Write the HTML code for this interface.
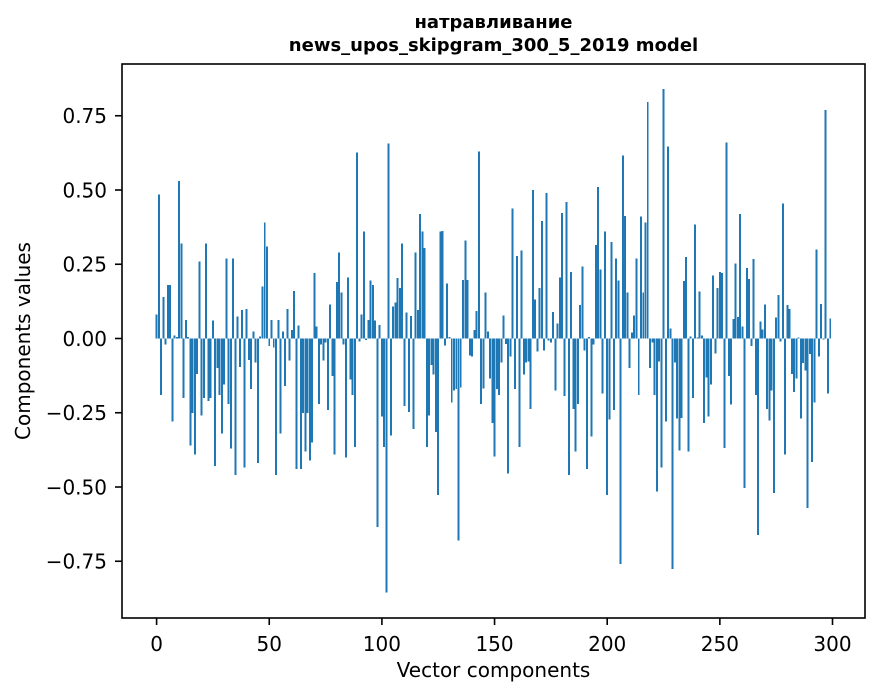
<!DOCTYPE html>
<html>
<head>
<meta charset="utf-8">
<style>
html,body{margin:0;padding:0;background:#fff;}
svg{display:block;}
text{font-family:"DejaVu Sans","Liberation Sans",sans-serif;fill:#000;}
</style>
</head>
<body>
<svg width="880" height="696" viewBox="0 0 880 696" xmlns="http://www.w3.org/2000/svg">
<rect x="0" y="0" width="880" height="696" fill="#fff"/>
<g transform="translate(156.6,338.5) scale(2.253,-297)" shape-rendering="crispEdges">
<path fill="#1f77b4" d="M-.44 0v.08h.88V0zm1 0v.485h.88V0zm1 0v-.19h.88V0zm1 0v.14h.88V0zm1 0v-.02h.88V0zm1 0v.18h.88V0zm1 0v.18h.88V0zm1 0v-.28h.88V0zm1 0v.01h.88V0zm1 0v.005h.88V0zm1 0v.53h.88V0zm1 0v.32h.88V0zm1 0v-.2h.88V0zm1 0v.063h.88V0zm1 0v.005h.88V0zm1 0v-.36h.88V0zm1 0v-.25h.88V0zm1 0v-.39h.88V0zm1 0v-.12h.88V0zm1 0v.26h.88V0zm1 0v-.26h.88V0zm1 0v-.2h.88V0zm1 0v.32h.88V0zm1 0v-.21h.88V0zm1 0v-.2h.88V0zm1 0v.06h.88V0zm1 0v-.43h.88V0zm1 0v-.1h.88V0zm1 0v-.19h.88V0zm1 0v-.32h.88V0zm1 0v-.155h.88V0zm1 0v.27h.88V0zm1 0v-.22h.88V0zm1 0v-.37h.88V0zm1 0v.27h.88V0zm1 0v-.46h.88V0zm1 0v.074h.88V0zm1 0v-.096h.88V0zm1 0v.096h.88V0zm1 0v-.435h.88V0zm1 0v.1h.88V0zm1 0v-.072h.88V0zm1 0v-.17h.88V0zm1 0v.024h.88V0zm1 0v-.08h.88V0zm1 0v-.42h.88V0zm1 0v.006h.88V0zm1 0v.175h.88V0zm1 0v.39h.88V0zm1 0v.31h.88V0zm1 0v-.026h.88V0zm1 0v.063h.88V0zm1 0v-.03h.88V0zm1 0v-.46h.88V0zm1 0v.063h.88V0zm1 0v-.32h.88V0zm1 0v.023h.88V0zm1 0v-.16h.88V0zm1 0v.1h.88V0zm1 0v-.074h.88V0zm1 0v.028h.88V0zm1 0v.16h.88V0zm1 0v-.44h.88V0zm1 0v.043h.88V0zm1 0v-.44h.88V0zm1 0v-.25h.88V0zm1 0v-.38h.88V0zm1 0v-.25h.88V0zm1 0v-.41h.88V0zm1 0v-.35h.88V0zm1 0v.22h.88V0zm1 0v.04h.88V0zm1 0v-.22h.88V0zm1 0v-.02h.88V0zm1 0v-.074h.88V0zm1 0v-.013h.88V0zm1 0v-.24h.88V0zm1 0v.115h.88V0zm1 0v-.126h.88V0zm1 0v-.39h.88V0zm1 0v.19h.88V0zm1 0v.29h.88V0zm1 0v.155h.88V0zm1 0v-.02h.88V0zm1 0v-.4h.88V0zm1 0v.206h.88V0zm1 0v-.138h.88V0zm1 0v-.19h.88V0zm1 0v-.365h.88V0zm1 0v.626h.88V0zm1 0v-.01h.88V0zm1 0v.08h.88V0zm1 0v.36h.88V0zm1 0v-.005h.88V0zm1 0v.063h.88V0zm1 0v.196h.88V0zm1 0v.18h.88V0zm1 0v.06h.88V0zm1 0v-.635h.88V0zm1 0v.046h.88V0zm1 0v-.263h.88V0zm1 0v-.365h.88V0zm1 0v-.856h.88V0zm1 0v.657h.88V0zm1 0v-.326h.88V0zm1 0v.108h.88V0zm1 0v.122h.88V0zm1 0v.204h.88V0zm1 0v.17h.88V0zm1 0v.32h.88V0zm1 0v-.228h.88V0zm1 0v.087h.88V0zm1 0v-.248h.88V0zm1 0v.075h.88V0zm1 0v-.305h.88V0zm1 0v.29h.88V0zm1 0v.096h.88V0zm1 0v.42h.88V0zm1 0v.36h.88V0zm1 0v.305h.88V0zm1 0v-.365h.88V0zm1 0v-.26h.88V0zm1 0v-.09h.88V0zm1 0v-.122h.88V0zm1 0v-.315h.88V0zm1 0v-.527h.88V0zm1 0v.36h.88V0zm1 0v.362h.88V0zm1 0v-.024h.88V0zm1 0v.186h.88V0zm1 0v.005h.88V0zm1 0v-.215h.88V0zm1 0v-.175h.88V0zm1 0v-.17h.88V0zm1 0v-.68h.88V0zm1 0v-.165h.88V0zm1 0v.197h.88V0zm1 0v.33h.88V0zm1 0v.197h.88V0zm1 0v-.057h.88V0zm1 0v-.06h.88V0zm1 0v.028h.88V0zm1 0v.092h.88V0zm1 0v.63h.88V0zm1 0v-.22h.88V0zm1 0v-.168h.88V0zm1 0v.155h.88V0zm1 0v.024h.88V0zm1 0v-.135h.88V0zm1 0v-.284h.88V0zm1 0v-.398h.88V0zm1 0v-.17h.88V0zm1 0v-.19h.88V0zm1 0v-.08h.88V0zm1 0v.077h.88V0zm1 0v-.018h.88V0zm1 0v-.455h.88V0zm1 0v-.06h.88V0zm1 0v.437h.88V0zm1 0v-.17h.88V0zm1 0v.278h.88V0zm1 0v-.365h.88V0zm1 0v.296h.88V0zm1 0v-.122h.88V0zm1 0v-.08h.88V0zm1 0v-.078h.88V0zm1 0v-.237h.88V0zm1 0v.5h.88V0zm1 0v.132h.88V0zm1 0v-.044h.88V0zm1 0v.17h.88V0zm1 0v.396h.88V0zm1 0v-.04h.88V0zm1 0v.49h.88V0zm1 0v-.006h.88V0zm1 0v-.013h.88V0zm1 0v.09h.88V0zm1 0v-.175h.88V0zm1 0v.05h.88V0zm1 0v.206h.88V0zm1 0v.423h.88V0zm1 0v-.194h.88V0zm1 0v.46h.88V0zm1 0v-.46h.88V0zm1 0v.224h.88V0zm1 0v-.237h.88V0zm1 0v-.38h.88V0zm1 0v-.22h.88V0zm1 0v.112h.88V0zm1 0v.243h.88V0zm1 0v-.04h.88V0zm1 0v-.44h.88V0zm1 0v.005h.88V0zm1 0v-.33h.88V0zm1 0v-.02h.88V0zm1 0v.315h.88V0zm1 0v.51h.88V0zm1 0v.232h.88V0zm1 0v-.186h.88V0zm1 0v.36h.88V0zm1 0v-.527h.88V0zm1 0v-.273h.88V0zm1 0v.325h.88V0zm1 0v-.24h.88V0zm1 0v.27h.88V0zm1 0v.196h.88V0zm1 0v-.76h.88V0zm1 0v.617h.88V0zm1 0v.413h.88V0zm1 0v.155h.88V0zm1 0v-.1h.88V0zm1 0v.02h.88V0zm1 0v.077h.88V0zm1 0v.27h.88V0zm1 0v-.19h.88V0zm1 0v.41h.88V0zm1 0v.155h.88V0zm1 0v.39h.88V0zm1 0v.797h.88V0zm1 0v-.1h.88V0zm1 0v-.013h.88V0zm1 0v-.19h.88V0zm1 0v-.515h.88V0zm1 0v-.078h.88V0zm1 0v-.435h.88V0zm1 0v.84h.88V0zm1 0v-.28h.88V0zm1 0v.646h.88V0zm1 0v.034h.88V0zm1 0v-.776h.88V0zm1 0v-.08h.88V0zm1 0v-.27h.88V0zm1 0v-.377h.88V0zm1 0v-.268h.88V0zm1 0v.194h.88V0zm1 0v.274h.88V0zm1 0v-.38h.88V0zm1 0v.006h.88V0zm1 0v-.2h.88V0zm1 0v.383h.88V0zm1 0v.003h.88V0zm1 0v.158h.88V0zm1 0v.01h.88V0zm1 0v-.285h.88V0zm1 0v-.132h.88V0zm1 0v-.263h.88V0zm1 0v-.155h.88V0zm1 0v.212h.88V0zm1 0v-.05h.88V0zm1 0v.17h.88V0zm1 0v.224h.88V0zm1 0v.22h.88V0zm1 0v-.369h.88V0zm1 0v.66h.88V0zm1 0v-.126h.88V0zm1 0v-.223h.88V0zm1 0v.066h.88V0zm1 0v.252h.88V0zm1 0v.072h.88V0zm1 0v.42h.88V0zm1 0v.04h.88V0zm1 0v-.503h.88V0zm1 0v.237h.88V0zm1 0v.2h.88V0zm1 0v-.026h.88V0zm1 0v.267h.88V0zm1 0v-.19h.88V0zm1 0v-.662h.88V0zm1 0v.057h.88V0zm1 0v.03h.88V0zm1 0v.114h.88V0zm1 0v-.237h.88V0zm1 0v-.276h.88V0zm1 0v-.175h.88V0zm1 0v-.52h.88V0zm1 0v.07h.88V0zm1 0v.146h.88V0zm1 0v-.01h.88V0zm1 0v.454h.88V0zm1 0v-.39h.88V0zm1 0v.112h.88V0zm1 0v.1h.88V0zm1 0v-.12h.88V0zm1 0v-.18h.88V0zm1 0v-.135h.88V0zm1 0v.004h.88V0zm1 0v-.27h.88V0zm1 0v-.083h.88V0zm1 0v-.107h.88V0zm1 0v-.57h.88V0zm1 0v-.053h.88V0zm1 0v-.416h.88V0zm1 0v-.215h.88V0zm1 0v.3h.88V0zm1 0v-.06h.88V0zm1 0v.116h.88V0zm1 0v-.003h.88V0zm1 0v.77h.88V0zm1 0v-.185h.88V0zm1 0v.068h.88V0z"/>
</g>
<!-- axes frame -->
<rect x="122" y="64" width="743" height="554" fill="none" stroke="#000" stroke-width="1.6"/>
<!-- ticks -->
<g stroke="#000" stroke-width="1.6">
<line x1="115" y1="115.75" x2="122" y2="115.75"/>
<line x1="115" y1="190" x2="122" y2="190"/>
<line x1="115" y1="264.25" x2="122" y2="264.25"/>
<line x1="115" y1="338.5" x2="122" y2="338.5"/>
<line x1="115" y1="412.75" x2="122" y2="412.75"/>
<line x1="115" y1="487" x2="122" y2="487"/>
<line x1="115" y1="561.25" x2="122" y2="561.25"/>
<line x1="156.6" y1="618" x2="156.6" y2="625"/>
<line x1="269.25" y1="618" x2="269.25" y2="625"/>
<line x1="381.9" y1="618" x2="381.9" y2="625"/>
<line x1="494.55" y1="618" x2="494.55" y2="625"/>
<line x1="607.2" y1="618" x2="607.2" y2="625"/>
<line x1="719.85" y1="618" x2="719.85" y2="625"/>
<line x1="832.5" y1="618" x2="832.5" y2="625"/>
</g>
<g font-size="20" text-anchor="end">
<text x="107" y="123">0.75</text>
<text x="107" y="197.3">0.50</text>
<text x="107" y="271.5">0.25</text>
<text x="107" y="345.8">0.00</text>
<text x="107" y="420">−0.25</text>
<text x="107" y="494.3">−0.50</text>
<text x="107" y="568.5">−0.75</text>
</g>
<g font-size="20" text-anchor="middle">
<text x="156.6" y="651">0</text>
<text x="269.25" y="651">50</text>
<text x="381.9" y="651">100</text>
<text x="494.55" y="651">150</text>
<text x="607.2" y="651">200</text>
<text x="719.85" y="651">250</text>
<text x="832.5" y="651">300</text>
<text x="493.5" y="677">Vector components</text>
<text transform="translate(30,341) rotate(-90)" x="0" y="0">Components values</text>
</g>
<g font-size="18" font-weight="bold" text-anchor="middle">
<text x="493.5" y="28">натравливание</text>
<text x="493.5" y="51">news_upos_skipgram_300_5_2019 model</text>
</g>
</svg>
</body>
</html>
